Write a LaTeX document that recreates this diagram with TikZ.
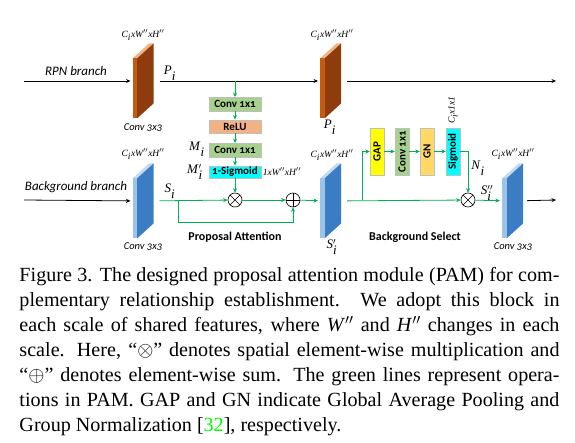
\documentclass[tikz,border=0pt]{standalone}
\usepackage{fontspec}
\setmainfont{Liberation Serif}
\newfontfamily\calib{Carlito}
\newfontfamily\calibo[Numbers=OldStyle]{Carlito}
\usepackage{graphicx}
\usetikzlibrary{arrows.meta,calc}
\definecolor{pamgreen}{HTML}{00B050}
\definecolor{rpnfront}{HTML}{C55A11}
\definecolor{rpnside}{HTML}{8E3C0D}
\definecolor{rpntop}{HTML}{F4B183}
\definecolor{bgfront}{HTML}{9DC3E6}
\definecolor{bgside}{HTML}{3A7DC4}
\definecolor{bgtop}{HTML}{C5D9EE}
\definecolor{convgreen}{HTML}{A9D18E}
\definecolor{reluorange}{HTML}{F4B183}
\definecolor{sigcyan}{HTML}{00FFFF}
\definecolor{gapyellow}{HTML}{FFFF00}
\definecolor{gnorange}{HTML}{FFD966}
\definecolor{citegreen}{HTML}{00FF00}

% feature map slab: name, x, y (top of front face), front, side, top
\newcommand{\slab}[6]{%
  \fill[#6] (#2,#3) -- ++(4.5,0) -- ++(16.5,-15) -- ++(-4.5,0) -- cycle;
  \fill[#5] (#2+4.5,#3) -- ++(16.5,-15) -- ++(0,60) -- ++(-16.5,15) -- cycle;
  \fill[#4] (#2,#3) rectangle ++(4.5,60);
  \node[slabbox] (#1) at (#2+10.5,#3+22.5) {};}
\newcommand{\sym}[3]{\textit{#1}$^{#2}_{\textit{#3}}$}
\newcommand{\cwh}{\textit{C}$_{\textit{i}}$\textit{xW}$''$\textit{xH}$''$}

\begin{document}
\begin{tikzpicture}[
  x=1pt, y=-1pt,
  >={Stealth[length=4.5pt,width=4pt]},
  blk/.style={draw=black, line width=0.8pt},
  g/.style={draw=pamgreen, line width=0.8pt},
  slabbox/.style={minimum width=21pt, minimum height=75pt, inner sep=0, outer sep=0},
  opbox/.style={draw=black!25, minimum width=52pt, minimum height=13.5pt, inner sep=0,
                font=\calibo\bfseries\fontsize{11}{11}\selectfont},
  vbox/.style={draw=black!25, minimum width=14pt, minimum height=47pt, inner sep=0,
               font=\calibo\bfseries\fontsize{11}{11}\selectfont},
  mul/.style={circle, draw, line width=0.6pt, fill=white, minimum size=14pt, inner sep=0,
              path picture={\draw[line width=0.6pt] (path picture bounding box.south west) -- (path picture bounding box.north east)
                (path picture bounding box.north west) -- (path picture bounding box.south east);}},
  add/.style={circle, draw, line width=0.6pt, fill=white, minimum size=14pt, inner sep=0,
              path picture={\draw[line width=0.6pt] (path picture bounding box.north) -- (path picture bounding box.south)
                (path picture bounding box.west) -- (path picture bounding box.east);}},
  dimlab/.style={font=\itshape\fontsize{9.5}{10}\selectfont},
  convlab/.style={font=\calibo\itshape\fontsize{10.5}{10}\selectfont},
  symlab/.style={font=\fontsize{13}{13}\selectfont},
  branch/.style={font=\calib\itshape\fontsize{13}{13}\selectfont},
  stage/.style={font=\calib\bfseries\fontsize{12}{12}\selectfont},
]
\useasboundingbox (0,0) rectangle (575,443);

% ---- slabs ----
\slab{oA}{132.5}{58.5}{rpnfront}{rpnside}{rpntop}
\slab{bA}{132.5}{178.5}{bgfront}{bgside}{bgtop}
\slab{oB}{320}{58.5}{rpnfront}{rpnside}{rpntop}
\slab{bB}{320}{178.5}{bgfront}{bgside}{bgtop}
\slab{bC}{502}{178.5}{bgfront}{bgside}{bgtop}

\node[dimlab] (dA) at (143,35) {\cwh};
\node[convlab] (kA) at (143,128) {Conv 3x3};
\node[dimlab] (dB) at (143,154) {\cwh};
\node[convlab] (kB) at (143,247) {Conv 3x3};
\node[dimlab] (dC) at (332,35) {\cwh};
\node[symlab] (pB) at (330,127) {\sym{P}{}{i}};
\node[dimlab] (dD) at (332,155) {\cwh};
\node[symlab] (sB) at (332,247) {\sym{S}{\prime}{i}};
\node[dimlab] (dE) at (513,154) {\cwh};
\node[convlab] (kC) at (513,247) {Conv 3x3};

% ---- branch inputs / outputs ----
\node[branch] (rpn) at (76,71) {RPN branch};
\node[branch] (bg) at (76,187) {Background branch};
\coordinate (rpnin) at (24,81);
\coordinate (bgin) at (24,200);
\coordinate (rpnout) at (556,81);
\coordinate (bgout) at (556,200);

\draw[blk,->,shorten >=2pt] (rpnin) -- (oA);
\draw[blk,->,shorten <=6pt,shorten >=2pt] (oA) -- (oB);
\draw[blk,->,shorten <=6pt] (oB) -- (rpnout);
\draw[blk,->,shorten >=2pt] (bgin) -- (bA);
\draw[blk,->,shorten <=4pt] (bC) -- (bgout);

% ---- proposal attention ----
\node[opbox, fill=convgreen] (c1) at (235,104) {Conv 1x1};
\node[opbox, fill=reluorange] (relu) at (235,126.5) {ReLU};
\node[opbox, fill=convgreen] (c2) at (235,150) {Conv 1x1};
\node[opbox, fill=sigcyan, minimum height=12.5pt] (inv) at (235,172) {1-Sigmoid};
\node[mul] (mulA) at (235,200) {};
\node[add] (addA) at (293,200) {};

\node[symlab] (pA) at (170,73) {\sym{P}{}{i}};
\node[symlab] (sA) at (170,191) {\sym{S}{}{i}};
\node[symlab] (mA) at (197,149) {\sym{M}{}{i}};
\node[symlab] (mB) at (195,172) {\sym{M}{\prime}{i}};
\node[dimlab] (dF) at (282,172) {\textit{1xW}$''$\textit{xH}$''$};
\node[stage] (pam) at (235,237) {Proposal Attention};

\coordinate (tapA) at (235,81);
\coordinate (bypA) at (178,200);
\draw[g,->] (tapA) -- (c1);
\foreach \a/\b in {c1/relu,relu/c2,c2/inv,inv/mulA}{
  \draw[g,->] (\a) -- (\b);
}
\draw[g,->,shorten <=6pt] (bA) -- (mulA);
\draw[g,->] (mulA) -- (addA);
\draw[g,->] (bypA) -- ++(0,22) -| (addA);
\draw[g,->,shorten >=2pt] (addA) -- (bB);

% ---- background select ----
\node[vbox, fill=gapyellow] (gap) at (377,151.5) {\rotatebox{90}{GAP}};
\node[vbox, fill=convgreen] (cv) at (402,151.5) {\rotatebox{90}{Conv 1x1}};
\node[vbox, fill=gnorange] (gn) at (427,151.5) {\rotatebox{90}{GN}};
\node[vbox, fill=sigcyan] (sg) at (453,151.5) {\rotatebox{90}{Sigmoid}};
\node[mul] (mulB) at (468,200) {};

\node[dimlab, rotate=90] (dG) at (453,110) {\textit{C}$_{\textit{i}}$\textit{x1x1}};
\node[symlab] (nA) at (478,168) {\sym{N}{}{i}};
\node[symlab] (sC) at (487,193) {\sym{S}{\prime\prime}{i}};
\node[stage] (bsel) at (415,237) {Background Select};

\coordinate (tapB) at (362,200);
\draw[g,->,shorten <=6pt] (bB) -- (mulB);
\draw[g,->] (tapB) |- (gap);
\foreach \a/\b in {gap/cv,cv/gn,gn/sg}{
  \draw[g,->] (\a) -- (\b);
}
\draw[g,->] (sg) -| (mulB);
\draw[g,->,shorten >=2pt] (mulB) -- (bC);

% ---- caption ----
\node[anchor=north west, text width=540pt, align=justify, inner sep=0,
      font=\fontsize{20.1}{25.1}\selectfont] (caption) at (19.3,267)
  {Figure 3. The designed proposal attention module (PAM) for com-\linebreak
   plementary relationship establishment.  We adopt this block in\linebreak
   each scale of shared features, where \textit{W}$''$ and \textit{H}$''$ changes in each\linebreak
   scale.  Here, ``$\otimes$'' denotes spatial element-wise multiplication and\linebreak
   ``$\oplus$'' denotes element-wise sum. The green lines represent opera-\linebreak
   tions in PAM. GAP and GN indicate Global Average Pooling and\linebreak
   Group Normalization [\textcolor{citegreen}{32}], respectively.};

\end{tikzpicture}
\end{document}
